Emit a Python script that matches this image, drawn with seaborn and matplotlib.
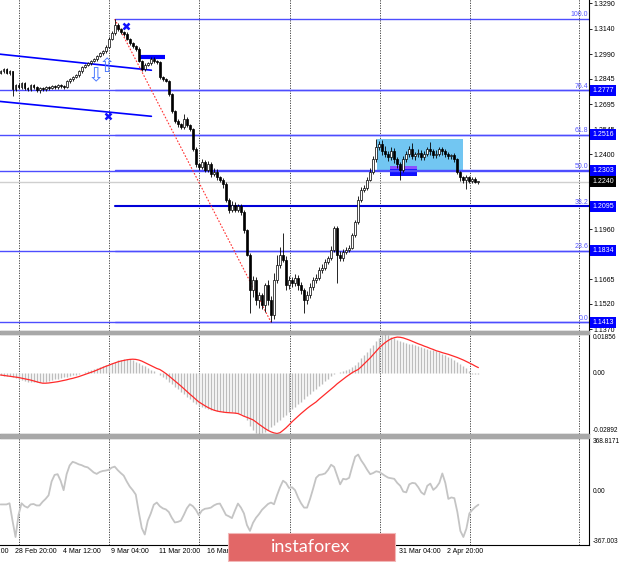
import numpy as np
import matplotlib
matplotlib.use("Agg")
import matplotlib.pyplot as plt
import matplotlib.transforms as mtransforms
from matplotlib.patches import Rectangle
import seaborn as sns

sns.set_style("white")
plt.rcParams['font.family'] = ['Liberation Sans', 'DejaVu Sans']

# ---- price data (GBPUSD H4), closes ----
first_open = 1.2880
closes = [1.2889, 1.2901, 1.2877, 1.2889, 1.2783, 1.2807, 1.2795, 1.2818, 1.2789, 1.2783,
          1.2807, 1.2795, 1.2777, 1.2789, 1.2783, 1.2795, 1.2789, 1.2801, 1.2795, 1.2807,
          1.2801, 1.2795, 1.2830, 1.2842, 1.2854, 1.2866, 1.2889, 1.2913, 1.2925, 1.2936,
          1.2948, 1.2960, 1.2978, 1.2995, 1.3007, 1.3031, 1.3078, 1.3113, 1.3161, 1.3137,
          1.3119, 1.3107, 1.3078, 1.3054, 1.3037, 1.3019, 1.2948, 1.2901, 1.2925, 1.2936,
          1.2960, 1.2948, 1.2942, 1.2854, 1.2842, 1.2830, 1.2754, 1.2653, 1.2594, 1.2577,
          1.2559, 1.2606, 1.2571, 1.2547, 1.2429, 1.2341, 1.2323, 1.2358, 1.2311, 1.2341,
          1.2282, 1.2299, 1.2264, 1.2252, 1.2223, 1.2134, 1.2075, 1.2105, 1.2075, 1.2099,
          1.2063, 1.1957, 1.1810, 1.1603, 1.1662, 1.1544, 1.1574, 1.1515, 1.1633, 1.1544,
          1.1456, 1.1662, 1.1751, 1.1810, 1.1780, 1.1633, 1.1662, 1.1644, 1.1674, 1.1633,
          1.1603, 1.1544, 1.1574, 1.1621, 1.1662, 1.1674, 1.1721, 1.1733, 1.1768, 1.1792,
          1.1839, 1.1969, 1.1810, 1.1792, 1.1827, 1.1839, 1.1851, 1.1928, 1.2004, 1.2134,
          1.2193, 1.2205, 1.2252, 1.2299, 1.2370, 1.2441, 1.2459, 1.2417, 1.2400, 1.2382,
          1.2417, 1.2370, 1.2341, 1.2311, 1.2370, 1.2400, 1.2429, 1.2388, 1.2400, 1.2411,
          1.2382, 1.2400, 1.2429, 1.2417, 1.2394, 1.2405, 1.2429, 1.2417, 1.2400, 1.2388,
          1.2394, 1.2370, 1.2299, 1.2264, 1.2252, 1.2264, 1.2246, 1.2258, 1.2240, 1.2240]

# wick lengths in pips
upper_wick = [10, 8, 10, 6, 4, 8, 10, 6, 8, 6, 8, 6, 10, 6, 8, 10, 6, 8, 8, 6,
              8, 6, 8, 10, 6, 8, 10, 8, 6, 8, 10, 8, 6, 10, 8, 14, 10, 12, 35, 10,
              8, 6, 10, 8, 6, 8, 10, 6, 12, 8, 14, 12, 8, 10, 6, 8, 5, 8, 10, 12,
              8, 30, 12, 8, 10, 12, 8, 14, 10, 20, 12, 18, 14, 10, 8, 12, 10, 18, 12, 8,
              10, 8, 6, 12, 20, 14, 18, 10, 12, 30, 20, 40, 55, 45, 129, 20, 25, 18, 22, 15,
              18, 12, 20, 24, 16, 22, 15, 20, 18, 12, 20, 10, 10, 22, 18, 14, 16, 12, 10, 20,
              14, 12, 16, 18, 20, 47, 22, 25, 30, 18, 24, 20, 16, 12, 22, 18, 20, 40, 15, 18,
              14, 20, 16, 41, 15, 18, 14, 12, 16, 12, 10, 12, 8, 6, 10, 12, 8, 10, 8, 6]
lower_wick = [8, 10, 6, 8, 41, 10, 8, 12, 8, 10, 12, 8, 10, 14, 8, 12, 10, 6, 8, 10,
              8, 10, 6, 8, 10, 6, 8, 10, 6, 8, 8, 6, 10, 6, 8, 10, 6, 8, 10, 12,
              10, 8, 6, 12, 10, 8, 6, 12, 10, 8, 10, 8, 12, 10, 8, 6, 8, 12, 10, 14,
              12, 10, 8, 12, 10, 18, 14, 10, 16, 12, 14, 10, 16, 12, 18, 14, 20, 12, 16, 14,
              18, 20, 10, 136, 40, 30, 45, 25, 40, 30, 43, 25, 20, 18, 16, 30, 22, 25, 20, 30,
              25, 77, 22, 18, 20, 16, 14, 18, 12, 14, 16, 12, 166, 20, 18, 14, 12, 10, 14, 12,
              16, 12, 14, 10, 12, 14, 16, 20, 18, 22, 14, 18, 20, 59, 12, 16, 14, 18, 20, 15,
              16, 14, 12, 18, 16, 14, 12, 18, 14, 16, 14, 12, 16, 20, 18, 53, 12, 14, 10, 12]

# MACD (x 1e-4)
macd_hist = [-10, -12, -14, -16, -20, -24, -28,
             -34, -38, -40, -42, -44, -44, -43, -42, -40, -38, -35,
             -30, -27, -24, -20, -17, -13, -10, -7, -4,
             0, 5, 10, 15, 20, 25, 30, 35,
             40, 45, 50, 55, 60, 64, 67, 68, 66, 62,
             55, 48, 40, 32, 24, 16, 8, 2,
             -8, -18, -28, -40, -52, -64, -76, -88, -100, -112, -124, -135, -145, -154,
             -160, -165, -170, -174, -177, -180, -182, -183, -184, -185, -186, -188, -190, -195, -205,
             -225, -250, -270, -285, -290,
             -285, -278, -268, -258, -246, -234, -222, -210, -198, -186, -172,
             -160, -148, -135, -122, -110, -98, -86, -74, -62, -50, -38, -26, -14, -4,
             2, 6, 10, 14, 20, 28,
             40, 55, 70, 85, 100, 118, 135, 152, 168,
             182, 185, 180,
             172, 165, 158, 152, 148, 144, 140, 136, 132, 128, 124, 120, 116, 112, 108, 104,
             98, 92, 86, 78, 70, 62, 52, 42, 32, 22, 12,
             -2, -4, -5]
macd_signal = [-9, -11, -13, -15, -17, -19, -21, -24, -27, -30, -33, -37, -41, -45, -48,
               -48, -47, -45, -43, -41, -38, -35, -32, -28, -25, -21, -17,
               -12, -7, -2, 3, 8, 14, 20, 26, 32, 37, 43,
               48, 53, 57, 60, 63, 65, 66, 65,
               62, 57, 50, 43, 36, 29, 22, 17,
               8, -2, -13, -25, -37, -49, -61, -74, -87, -100, -112, -125, -137,
               -146, -155, -163, -170, -176, -180,
               -183, -185, -187, -188, -189, -190, -192,
               -198, -205, -210, -216, -222,
               -232, -243, -253, -263, -272, -279, -284, -287,
               -283, -272, -260, -246, -231,
               -218, -205, -192, -180, -168, -157, -147, -137,
               -124, -112, -100, -88, -76, -64, -51,
               -40, -29, -18, -8, 2, 10, 17,
               30, 44, 58, 72, 88, 104, 120,
               133, 145, 155, 163, 168, 171,
               170, 167, 162, 157, 151, 145,
               139, 134, 128, 123, 117, 112, 106,
               102, 97, 93, 89, 84, 79, 74, 68,
               62, 55, 48, 41, 33, 26]

# CCI
cci = [-88, -88, -88, -80, -200, -312, -160, -80, -100, -110,
       -88, -85, -95, -95, -70, -50, -25, 70, 115, 120,
       75, 10, 120, 180, 205, 198, 188, 182, 172, 167,
       150, 132, 122, 135, 142, 145, 150, 165, 172, 148,
       128, 110, 70, 35, 10, -20, -140, -250, -295, -200,
       -150, -90, -75, -100, -115, -122, -140, -180, -212, -208,
       -200, -160, -115, -87, -100, -125, -162, -130, -118, -115,
       -110, -95, -85, -82, -120, -160, -170, -182, -130, -82,
       -110, -150, -230, -270, -215, -180, -155, -125, -105, -85,
       -75, -87, -25, 30, 75, 60, 25, 30, 10, -40,
       -80, -110, -110, -50, 20, 95, 115, 118, 125, 150,
       185, 170, 110, 50, 88, 84, 95, 170, 240, 255,
       215, 185, 150, 120, 128, 140, 135, 122, 108, 96,
       92, 88, 60, 40, 0, -5, 50, 60, 57, 30,
       -5, -20, 40, 55, 12, 30, 60, 125, 60, -50,
       -40, -45, -140, -270, -312, -255, -150, -125, -105, -90]

date_labels = ['26 Feb 04:00', '28 Feb 20:00', '4 Mar 12:00', '9 Mar 04:00', '11 Mar 20:00',
               '16 Mar 12:00', '19 Mar 04:00', '23 Mar 20:00', '26 Mar 12:00',
               '31 Mar 04:00', '2 Apr 20:00']
date_bars = [-11, 5, 21, 37, 53, 69, 85, 101, 117, 133, 149]

price_ticks = [1.3290, 1.3140, 1.2990, 1.2845, 1.2695, 1.2545, 1.2400, 1.2250,
               1.2105, 1.1960, 1.1815, 1.1665, 1.1520, 1.1370]
hline_prices = [1.2777, 1.2516, 1.2303, 1.1834, 1.1413]
box_prices = [1.2777, 1.2516, 1.2303, 1.2095, 1.1834, 1.1413]
fib_levels = [0.0, 23.6, 38.2, 50.0, 61.8, 76.4, 100.0]
fib_low, fib_high = 1.1413, 1.3198
last_price = 1.2240

closes = np.array(closes)
opens = np.r_[first_open, closes[:-1]]
highs = np.maximum(opens, closes) + np.array(upper_wick) * 1e-4
lows = np.minimum(opens, closes) - np.array(lower_wick) * 1e-4
x = np.arange(len(closes))

# ---- layout (pixel based, 620x562) ----
W, H = 620, 562
def rect(x0, y0, x1, y1):
    return [x0 / W, 1 - y1 / H, (x1 - x0) / W, (y1 - y0) / H]

fig = plt.figure(figsize=(6.2, 5.62), dpi=100)
ax = fig.add_axes(rect(-1, -1, 589, 331))
ax_m = fig.add_axes(rect(-1, 334, 589, 434), sharex=ax)
ax_c = fig.add_axes(rect(-1, 438, 589, 545), sharex=ax)

for sep in [(331, 334), (434, 438)]:
    fig.add_artist(Rectangle((0, 1 - sep[1] / H), 589 / W, (sep[1] - sep[0]) / H,
                             transform=fig.transFigure, color='#a8a8a8', zorder=5))

grid_bars = [6.2, 36.2, 66.2, 96.2, 126.2, 156.2, 192.5]
for a in (ax, ax_m, ax_c):
    a.set_facecolor('white')
    for g in grid_bars:
        a.axvline(g, color='#303030', lw=0.6, ls=(0, (1.5, 1.5)), zorder=0.5)
    a.spines['left'].set_visible(False)
    for s in ('right', 'bottom', 'top'):
        a.spines[s].set_color('black')
        a.spines[s].set_linewidth(0.8)
    a.yaxis.tick_right()
    a.tick_params(axis='y', labelsize=5, length=2, width=0.6, pad=1.2,
                  direction='out', colors='black')
    a.tick_params(axis='x', bottom=False, labelbottom=False)
ax.spines['top'].set_visible(False)

# ---- main price panel ----
ax.set_xlim(-0.5, 195.8)
ax.set_ylim(1.1361, 1.3314)

# boxes
ax.add_patch(Rectangle((125.2, 1.2311), 28.6, 0.0177, facecolor='#72c6f2',
                       edgecolor='none', zorder=1))
ax.add_patch(Rectangle((129.5, 1.2270), 9, 0.0064, facecolor='#1010ff',
                       edgecolor='none', zorder=1.1))
ax.add_patch(Rectangle((129.5, 1.2313), 9, 0.0020, facecolor='#8a50ff',
                       edgecolor='none', zorder=1.2))

# horizontal levels
ax.axhline(last_price, color='#cfcfcf', lw=1, zorder=1)
for p in hline_prices:
    ax.axhline(p, color='#4d4dff', lw=1, zorder=1.5)
for lvl in fib_levels:
    p = fib_low + (fib_high - fib_low) * lvl / 100
    if lvl == 38.2:
        ax.plot([38, 195.8], [p, p], color='#0000d8', lw=1.5, zorder=1.6)
    else:
        ax.plot([38, 195.8], [p, p], color='#4d4dff', lw=1, zorder=1.5)
    ax.text(195.6, p + 0.0003, f"{lvl:.1f}", ha='right', va='bottom', fontsize=5,
            color='#5656ff', zorder=2)

# trend channel and drawings
ax.plot([-0.5, 50.2], [1.2990, 1.2895], color='#0000ff', lw=1.2, zorder=2)
ax.plot([-0.5, 50.2], [1.2712, 1.2624], color='#0000ff', lw=1.2, zorder=2)
ax.plot([46.2, 54.8], [1.2972, 1.2972], color='#0000ff', lw=3, solid_capstyle='butt', zorder=2)
ax.plot([38, 90], [1.3196, 1.1413], color='#ff3030', lw=0.8, ls=(0, (1.5, 1.5)), zorder=2)

# candles
body_lo = np.minimum(opens, closes)
body_h = np.maximum(np.abs(closes - opens), 0.0003)
bull = closes >= opens
ax.vlines(x, lows, highs, color='black', lw=0.6, zorder=3)
ax.bar(x, body_h, bottom=body_lo, width=0.62,
       color=np.where(bull, 'white', 'black'), edgecolor='black', linewidth=0.5, zorder=3.1)

ax.plot(41.8, 1.3155, marker='x', ms=5, mew=1.8, color='#1010ff', zorder=4)
ax.plot(35.8, 1.2624, marker='x', ms=5, mew=1.8, color='#1010ff', zorder=4)
ax.text(35.3, 1.2915, '\u21e7', color='#4a78ff', fontsize=14, ha='center', va='center',
        family='DejaVu Sans', zorder=4)
ax.text(31.8, 1.2860, '\u21e9', color='#4a78ff', fontsize=14, ha='center', va='center',
        family='DejaVu Sans', zorder=4)

ax.set_yticks(price_ticks)
ax.set_yticklabels([f"{p:.4f}" for p in price_ticks])

trans = mtransforms.blended_transform_factory(ax.transAxes, ax.transData)
for p in box_prices:
    ax.text(1.006, p, f"{p:.4f}", transform=trans, ha='left', va='center', fontsize=5,
            color='white', clip_on=False, zorder=6,
            bbox=dict(boxstyle='square,pad=0.3', facecolor='#0000ff', edgecolor='none'))
ax.text(1.006, last_price, f"{last_price:.4f}", transform=trans, ha='left', va='center',
        fontsize=5, color='white', clip_on=False, zorder=6,
        bbox=dict(boxstyle='square,pad=0.3', facecolor='black', edgecolor='none'))

# ---- MACD panel ----
ax_m.vlines(np.arange(len(macd_hist)), 0, np.array(macd_hist) * 1e-4, lw=1.0,
            color='#bdbdbd', zorder=2)
sns.lineplot(x=np.arange(len(macd_signal)), y=np.array(macd_signal) * 1e-4, ax=ax_m,
             color='#ff2a2a', lw=0.9, zorder=3)
ax_m.set_ylim(-0.02892, 0.01856)
ax_m.set_yticks([-0.02892, 0.0, 0.01856])
ax_m.set_yticklabels(['-0.02892', '0.00', '0.01856'])
for lbl, va in zip(ax_m.get_yticklabels(), ['bottom', 'center', 'top']):
    lbl.set_va(va)

# ---- CCI panel ----
sns.lineplot(x=np.arange(len(cci)), y=cci, ax=ax_c, color='#c4c4c4', lw=1.3, zorder=3)
ax_c.set_ylim(-367.003, 368.8171)
ax_c.set_yticks([-367.003, 0.0, 368.8171])
ax_c.set_yticklabels(['-367.003', '0.00', '368.8171'])
for lbl, va in zip(ax_c.get_yticklabels(), ['bottom', 'center', 'top']):
    lbl.set_va(va)

for a in (ax_m, ax_c):
    a.set_xlabel('')
    a.set_ylabel('')
    a.tick_params(axis='y', labelsize=4.7, length=0, pad=2.5)
ax_c.set_xlim(-0.5, 195.8)

tx = mtransforms.blended_transform_factory(ax_c.transData, ax_c.transAxes)
for b, lab in zip(date_bars, date_labels):
    ax_c.text(b - 0.3, -0.065, lab, transform=tx, ha='left', va='center', fontsize=5,
              color='black', clip_on=False)

# ---- watermark ----
fig.add_artist(Rectangle((228 / W, 1 - 561 / H), 167 / W, 28 / H, transform=fig.transFigure,
                         facecolor='#e26767', edgecolor='#f2b8b8', lw=0.8, zorder=10))
fig.text(311 / W, 1 - 547 / H, 'instaforex', color='white', fontsize=13, family='Lato',
         ha='center', va='center', zorder=11)

fig.savefig('out.png', dpi=100, facecolor='white')
